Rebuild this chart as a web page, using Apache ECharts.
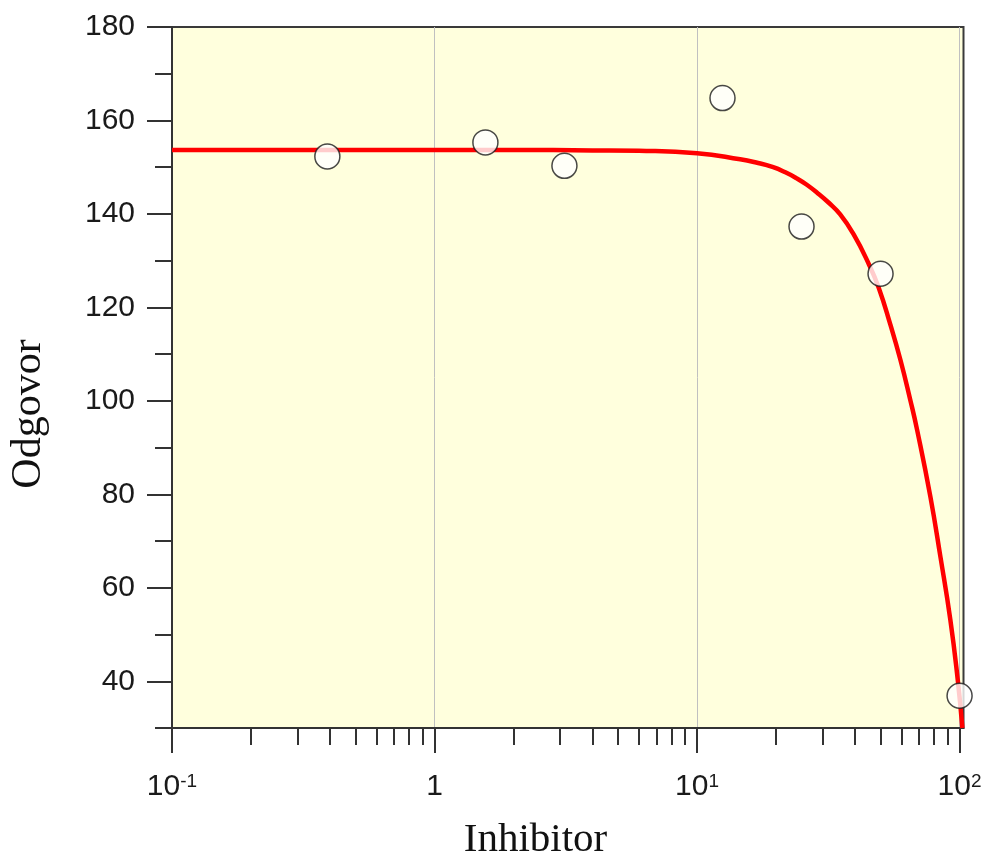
<!DOCTYPE html>
<html>
<head>
<meta charset="utf-8">
<script src="https://cdn.jsdelivr.net/npm/echarts@6/dist/echarts.min.js"></script>
<style>html,body{margin:0;padding:0;background:#fff}#c{width:984px;height:856px}</style>
</head>
<body>
<div id="c"></div>
<script>
// ---- data ----
const xTitle = 'Inhibitor';
const yTitle = 'Odgovor';
const pointX = [0.390625, 1.5625, 3.125, 12.5, 25, 50, 100];
const pointY = [152.3, 155.3, 150.3, 164.8, 137.3, 127.2, 36.9];
const curveX = [0.1, 0.5, 1, 2, 4, 6, 10, 14.6, 16.8, 19.5, 21.7, 24, 26.1, 28.6, 31.6, 35.1, 39.5, 45, 49.2, 54.5, 59.5, 64.9, 68.9, 77.4, 84.5, 92.2, 98.4, 102.5];
const curveY = [153.7, 153.7, 153.7, 153.7, 153.6, 153.5, 153.0, 151.7, 151.0, 150.0, 148.9, 147.6, 146.3, 144.6, 142.5, 139.9, 135.6, 129.4, 124.2, 116.3, 108.8, 100.2, 93.8, 79.5, 66.7, 53.2, 40.3, 30];
const xMajorTicks = [0.1, 1, 10, 100];
const xMinorTicks = [0.2, 0.3, 0.4, 0.5, 0.6, 0.7, 0.8, 0.9, 2, 3, 4, 5, 6, 7, 8, 9, 20, 30, 40, 50, 60, 70, 80, 90];
const yMajorTicks = [40, 60, 80, 100, 120, 140, 160, 180];
const yMinorTicks = [30, 50, 70, 90, 110, 130, 150, 170];
const xRange = [0.1, 103.5];
const yRange = [30, 180];

// ---- chart ----
const chart = echarts.init(document.getElementById('c'), null, {renderer: 'canvas'});
const axisColor = '#333';
const labelFont = 'Liberation Sans, Arial, sans-serif';
const titleFont = 'Liberation Serif, Times New Roman, serif';

function xLabel(v) {
  const e = Math.round(Math.log10(v));
  if (e === 0) return '{n|1}';
  return '{n|10}{s|' + e + '}';
}

const option = {
  animation: false,
  backgroundColor: '#ffffff',
  grid: {
    left: 172, top: 27, width: 791.5, height: 701,
    show: true, backgroundColor: '#FFFFDD', borderColor: '#3a3a3a', borderWidth: 2,
    containLabel: false, outerBoundsMode: 'none'
  },
  xAxis: [
    {
      type: 'log', logBase: 10, min: xRange[0], max: xRange[1], position: 'bottom',
      axisLine: {show: true, onZero: false, lineStyle: {color: axisColor, width: 2}},
      axisTick: {show: true, inside: false, length: 25, customValues: xMajorTicks, lineStyle: {color: axisColor, width: 2}},
      minorTick: {show: false},
      axisLabel: {
        show: true, customValues: xMajorTicks, margin: 44, formatter: xLabel,
        rich: {
          n: {fontSize: 30, fontFamily: labelFont, color: '#1a1a1a'},
          s: {fontSize: 19, fontFamily: labelFont, color: '#1a1a1a', verticalAlign: 'top'}
        }
      },
      splitLine: {show: true, lineStyle: {color: '#c0c0c0', width: 1}}
    },
    {
      type: 'log', logBase: 10, min: xRange[0], max: xRange[1], position: 'bottom',
      axisLine: {show: false},
      axisTick: {show: true, inside: false, length: 17, customValues: xMinorTicks, lineStyle: {color: axisColor, width: 2}},
      axisLabel: {show: false},
      splitLine: {show: false}
    }
  ],
  yAxis: [
    {
      type: 'value', min: yRange[0], max: yRange[1], position: 'left',
      axisLine: {show: true, onZero: false, lineStyle: {color: axisColor, width: 2}},
      axisTick: {show: true, inside: false, length: 25, customValues: yMajorTicks, lineStyle: {color: axisColor, width: 2}},
      axisLabel: {show: true, customValues: yMajorTicks, margin: 37, fontSize: 30, fontFamily: labelFont, color: '#1a1a1a'},
      splitLine: {show: false}
    },
    {
      type: 'value', min: yRange[0], max: yRange[1], position: 'left',
      axisLine: {show: false},
      axisTick: {show: true, inside: false, length: 17, customValues: yMinorTicks, lineStyle: {color: axisColor, width: 2}},
      axisLabel: {show: false},
      splitLine: {show: false}
    }
  ],
  series: [
    {
      type: 'line', xAxisIndex: 0, yAxisIndex: 0,
      data: curveX.map((x, i) => [x, curveY[i]]),
      showSymbol: false, symbol: 'none', smooth: 0.5,
      lineStyle: {color: '#ff0000', width: 4.5},
      z: 2
    },
    {
      type: 'scatter', xAxisIndex: 0, yAxisIndex: 0,
      data: pointX.map((x, i) => [x, pointY[i]]),
      symbol: 'circle', symbolSize: 25,
      itemStyle: {color: '#ffffff', borderColor: '#1a1a1a', borderWidth: 1.5},
      z: 3
    }
  ],
  graphic: [
    {type: 'text', x: 535.5, y: 840, style: {text: xTitle, fontSize: 41, fontFamily: titleFont, fill: '#111', align: 'center', verticalAlign: 'middle'}},
    {type: 'text', x: 29, y: 414, rotation: Math.PI / 2, style: {text: yTitle, fontSize: 42, fontFamily: titleFont, fill: '#111', align: 'center', verticalAlign: 'middle'}}
  ]
};
chart.setOption(option);
</script>
</body>
</html>
